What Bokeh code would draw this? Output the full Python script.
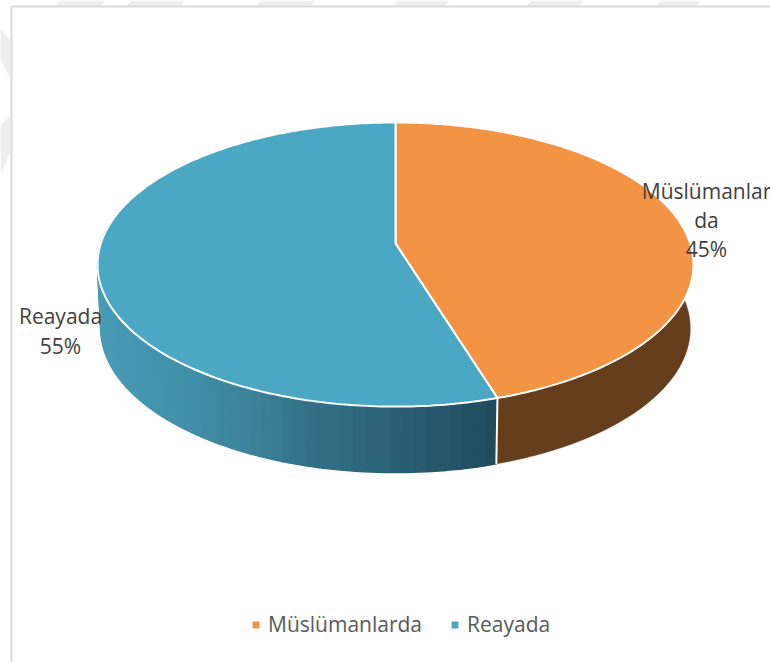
import numpy as np
from bokeh.plotting import figure
from bokeh.models import Range1d, Legend, LegendItem
from bokeh.core.properties import value
from bokeh.embed import file_html
from bokeh.resources import INLINE

categories = ["Müslümanlarda", "Reayada"]
shares = [45.2, 54.8]
percent_labels = ["45%", "55%"]
label_lines = [["Müslümanlar", "da", "45%"], ["Reayada", "55%"]]

FACE = ["#F39444", "#4AA8C5"]
BROWN = "#663D1A"
TILT = -0.148
TOP = dict(R=294.7, a=103.0, b=243.0)
BOTTOM = dict(R=291.5, a=95.5, b=306.7)
CX = 395.0
SHADE_X = [98, 170, 250, 300, 400, 497]
SHADE_RGB = [(74, 156, 183), (66, 146, 172), (60, 132, 155), (52, 115, 138), (42, 96, 116), (31, 74, 92)]


def project(t, R, a, b):
    """t: clockwise angle from 12 o'clock, in radians; perspective view of a tilted disc."""
    X, Y = np.sin(t), -np.cos(t)
    d = 1 + TILT * Y
    return CX + R * X / d, (a * Y + b) / d


p = figure(width=770, height=662, output_backend="svg", toolbar_location=None,
           x_range=Range1d(0, 770), y_range=Range1d(662, 0),
           min_border=0, background_fill_color="white",
           border_fill_color="white")
p.axis.visible = False
p.grid.visible = False
p.outline_line_color = None

# faint watermark showing around the chart box
wm = "#eeeeee"
p.patches([[59, 105, 101, 55], [130, 184, 180, 126], [260, 314, 310, 256], [397, 449, 445, 393],
           [530, 583, 579, 526], [660, 700, 696, 656]],
          [[0, 0, 6, 6]] * 6, fill_color=wm, line_color=None)
p.patches([[0, 10, 10, 0], [10, 0, 0, 10]], [[28, 40, 78, 60], [115, 125, 175, 150]],
          fill_color=wm, line_color=None)
# chart box
p.quad(left=[11], right=[790], top=[7], bottom=[680], fill_color="white", line_color=None)
p.line([11, 11], [680, 6], line_color="#d9d9d9", line_width=2)
p.line([11, 790], [6, 6], line_color="#d9d9d9", line_width=2)

split = 2 * np.pi * shares[0] / sum(shares)

# side wall: orange slice's side
ts = np.linspace(np.radians(80), split, 80)
tx, ty = project(ts, **TOP)
bx, by = project(ts, **BOTTOM)
p.patch(np.r_[tx, bx[::-1]], np.r_[ty, by[::-1]], fill_color=BROWN, line_color=BROWN, line_width=0.5)

# side wall: blue slice's side, shaded in narrow strips
edges = np.linspace(split, np.radians(285), 61)
for t0, t1 in zip(edges[:-1], edges[1:]):
    t = np.linspace(t0, t1, 3)
    tx, ty = project(t, **TOP)
    bx, by = project(t, **BOTTOM)
    xm = bx.mean()
    rgb = [int(np.interp(xm, SHADE_X, [c[i] for c in SHADE_RGB])) for i in range(3)]
    col = "#%02x%02x%02x" % tuple(rgb)
    p.patch(np.r_[tx, bx[::-1]], np.r_[ty, by[::-1]], fill_color=col, line_color=col, line_width=1.5)

# white edge between the side walls
tx, ty = project(split, **TOP)
bx, by = project(split, **BOTTOM)
p.line([tx, bx], [ty, by], line_color="white", line_width=2)

# top face
apex_x, apex_y = CX, TOP["b"]
bounds = [(0.0, split), (split, 2 * np.pi)]
faces = []
for (t0, t1), col in zip(bounds, FACE):
    t = np.linspace(t0, t1, 240)
    fx, fy = project(t, **TOP)
    faces.append(p.patch(np.r_[apex_x, fx], np.r_[apex_y, fy], fill_color=col,
                         line_color="white", line_width=2))

# data labels
font = value("Open Sans")
for lines, x, y0, dy, in zip(label_lines, [706, 60], [190, 315], [29, 30]):
    ys = [y0 + i * dy for i in range(len(lines))]
    p.text([x] * len(lines), ys, text=lines, text_align="center", text_baseline="middle",
           text_font=font, text_font_size="21px", text_color="#404040")

legend = Legend(items=[LegendItem(label=c, renderers=[r]) for c, r in zip(categories, faces)],
                orientation="horizontal", location=(250, 24), background_fill_alpha=0,
                border_line_color=None, glyph_width=11, glyph_height=11, spacing=27,
                label_standoff=7, padding=0, margin=0, label_text_font="Open Sans",
                label_text_font_size="21px", label_text_color="#595959")
p.add_layout(legend, "center")

open("out.html", "w").write(file_html(p, INLINE))
